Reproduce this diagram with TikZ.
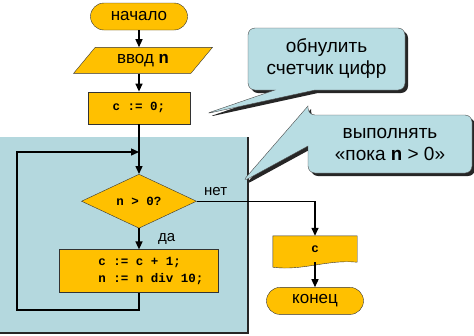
\documentclass[tikz,border=0pt]{standalone}
\usepackage{fontspec}
\setmainfont{Liberation Sans}
\setmonofont{Liberation Mono}
\usepackage{tikz}
\usetikzlibrary{shapes.geometric, shapes.callouts, shadows, arrows.meta, positioning, calc, backgrounds}
\definecolor{blockfill}{RGB}{255,192,0}
\definecolor{loopfill}{RGB}{180,216,222}
\definecolor{notefill}{RGB}{184,221,227}
\newcommand{\code}[1]{\texttt{\bfseries #1}}

\begin{document}
\begin{tikzpicture}[
  x=1pt, y=-1pt,
  >={Triangle[length=8pt,width=7pt]},
  % Flowchart blocks
  base/.style={
    draw=black!80, fill=blockfill, inner sep=0pt,
    font=\fontsize{17}{20}\selectfont
  },
  termbox/.style={
    base, rectangle, rounded corners=13.5pt,
    minimum width=97pt, minimum height=27pt
  },
  iobox/.style={
    base, trapezium, trapezium left angle=47, trapezium right angle=133,
    trapezium stretches=true, minimum width=134pt, minimum height=26pt
  },
  procbox/.style={
    base, rectangle, align=left,
    font=\fontsize{12.5}{17}\selectfont\ttfamily\bfseries
  },
  decbox/.style={
    base, diamond, minimum width=115pt, minimum height=54pt,
    font=\fontsize{12.5}{14}\selectfont\ttfamily\bfseries
  },
  docbox/.style={
    inner sep=0pt, minimum width=84pt, minimum height=26pt,
    font=\fontsize{12.5}{14}\selectfont\ttfamily\bfseries
  },
  % Comment bubbles
  notebox/.style={
    rectangle callout, rounded corners=7pt, draw=black!70, fill=notefill,
    align=center, inner sep=0pt, callout pointer width=40pt,
    font=\fontsize{19}{22}\selectfont,
    drop shadow={shadow xshift=3pt, shadow yshift=-3pt, fill=black!85, opacity=1}
  },
  % Arrow styles
  flow/.style={line width=1.4pt, ->},
  lbl/.style={font=\fontsize{15}{17}\selectfont}
]
\useasboundingbox (0,0) rectangle (474,335);

% === MAIN FLOW ===
\node[termbox] (start) at (139,16.5) {начало};
\node[iobox, minimum width=140pt, below=17pt of start, xshift=4pt] (input) {ввод \code{n}};
\node[procbox, minimum width=102pt, minimum height=32pt, below=18pt of input, xshift=-4pt] (init) {c := 0;};
\node[decbox, below=50pt of init] (check) {n > 0?};
\node[procbox, minimum width=159pt, minimum height=43pt, below=21pt of check] (body)
  {\hspace*{24pt}c := c + 1;\\\hspace*{24pt}n := n div 10;};

% === OUTPUT AND END ===
\node[docbox] (result) at (315,249) {c};
\node[termbox, below=25pt of result] (stop) {конец};

% === COMMENTS ===
\node[notebox, minimum width=157pt, minimum height=62pt,
  callout absolute pointer={(205,114)}] (note1) at (326.5,59) {обнулить\\счетчик цифр};
\node[notebox, minimum width=164pt, minimum height=58pt,
  callout absolute pointer={(242,182)}] (note2) at (390,144) {выполнять\\«пока \code{n} > 0»};

% === LOOP COORDINATES ===
\coordinate (loopin) at ($(init.south)+(0,28)$);
\coordinate (loopleft) at (17,310);

% === CONNECTORS ===
\draw[flow] (start) -- (start |- input.north);
\draw[flow] (input.south -| init) -- (init);
\draw[flow] (init) -- (check);
\draw[flow] (check) -- node[lbl, right, xshift=15pt] {да} (body);
\draw[flow] (check.east) -| node[lbl, pos=0.08, above=2pt] {нет} (result.north);
\draw[flow] (result.south) -- (stop);
\draw[flow] (body.south) |- (loopleft) |- (loopin);

% === BACKGROUND ===
\begin{scope}[on background layer]
  \fill[loopfill] (0,137) rectangle (248,333);
  \draw[line width=2.5pt, black!85] (248,137) -- (248,333) -- (0,333);
  \draw[base] (result.north west) -- (result.north east) -- (result.south east)
    .. controls ($(result.south east)+(-30,-3)$) and ($(result.south west)+(30,9)$)
    .. ($(result.south west)+(0,5)$) -- cycle;
\end{scope}

\end{tikzpicture}
\end{document}
